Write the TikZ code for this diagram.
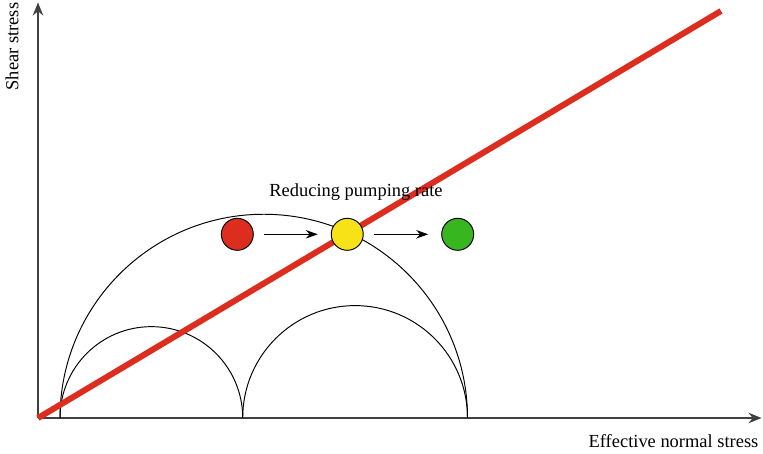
\documentclass[tikz,border=0pt]{standalone}
\usepackage{fontspec}
\setmainfont{Liberation Serif}
\usetikzlibrary{arrows.meta,positioning}
\definecolor{failred}{RGB}{221,45,30}
\definecolor{warnyellow}{RGB}{246,226,22}
\definecolor{safegreen}{RGB}{56,182,32}

\begin{document}
\begin{tikzpicture}[
  x=0.02cm, y=0.02cm,
  axis/.style={-{Stealth[length=2.6mm, width=2.1mm]}, line width=0.7pt, black!75},
  mohr/.style={line width=0.55pt},
  envelope/.style={failred, line width=0.12cm},
  dot/.style={circle, draw, line width=0.55pt, minimum size=0.64cm, inner sep=0pt},
  arr/.style={-{Stealth[length=2.4mm, width=1.7mm]}, line width=0.6pt},
  lbl/.style={font=\fontsize{10.5}{12}\selectfont}
]
\useasboundingbox (0,0) rectangle (763,453);

% axes
\coordinate (O) at (38,35);
\coordinate (ytop) at (38,450.5);
\coordinate (xend) at (761.5,35);
\draw[axis] (O) -- (ytop);
\draw[axis] (O) -- (xend);
\node[lbl, rotate=90, anchor=base] (ylab) at (18.3,406.5) {Shear stress};
\node[lbl, anchor=base] (xlab) at (673.5,5.3) {Effective normal stress};

% Mohr circles
\draw[mohr] (60,35) arc[start angle=180, end angle=0, radius=203.75];
\draw[mohr] (60,35) arc[start angle=180, end angle=0, radius=91.35];
\draw[mohr] (242.7,35) arc[start angle=180, end angle=0, radius=112.4];

% failure envelope
\coordinate (envtop) at (721,442);
\draw[envelope] (O) -- (envtop);

% states
\node[dot, fill=failred] (red) at (237.3,218.7) {};
\node[dot, fill=warnyellow, right=1.54cm of red] (yellow) {};
\node[dot, fill=safegreen, right=1.55cm of yellow] (green) {};
\draw[arr, shorten <=0.2cm, shorten >=0.26cm] (red) -- (yellow);
\draw[arr, shorten <=0.21cm, shorten >=0.26cm] (yellow) -- (green);
\node[lbl, anchor=base] (rate) at (356,256.3) {Reducing pumping rate};
\end{tikzpicture}
\end{document}
